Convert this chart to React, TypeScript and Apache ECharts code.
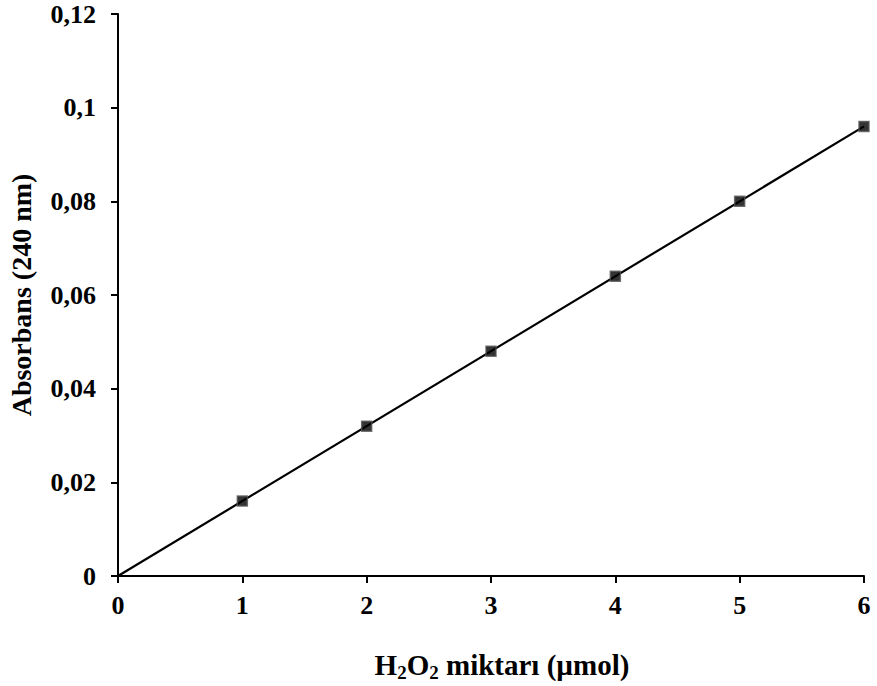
import React, { useEffect, useRef } from "react";
import * as echarts from "echarts";

const xValues = [1, 2, 3, 4, 5, 6];
const yValues = [0.016, 0.032, 0.048, 0.064, 0.08, 0.096];
const trendX = [0, 6];
const trendY = [0, 0.096];
const xTicks = [0, 1, 2, 3, 4, 5, 6];
const yTicks = [0, 0.02, 0.04, 0.06, 0.08, 0.1, 0.12];

const FONT = '"Liberation Serif", "Times New Roman", serif';

export default function App() {
  const ref = useRef<HTMLDivElement>(null);
  useEffect(() => {
    if (!ref.current) return;
    const chart = echarts.init(ref.current, null, { renderer: "svg" });
    const fmt = (v: number) => String(parseFloat(v.toFixed(3))).replace(".", ",");
    chart.setOption({
      animation: false,
      backgroundColor: "#ffffff",
      grid: { left: 118, right: 13, top: 14, bottom: 110, containLabel: false, outerBoundsMode: "none" },
      xAxis: {
        type: "value",
        min: xTicks[0],
        max: xTicks[xTicks.length - 1],
        interval: 1,
        splitLine: { show: false },
        axisLine: { show: true, onZero: false, lineStyle: { color: "#000", width: 2 } },
        axisTick: { show: true, inside: false, length: 7, lineStyle: { color: "#000", width: 2 } },
        axisLabel: {
          color: "#000",
          fontFamily: FONT,
          fontWeight: "bold",
          fontSize: 26,
          margin: 16,
          formatter: (v: number) => fmt(v),
        },
        name: "{a|H}{s|2}{a|O}{s|2}{a| miktarı (µmol)}",
        nameLocation: "middle",
        nameGap: 71,
        nameTextStyle: {
          padding: [0, 0, 0, 22],
          rich: {
            a: { fontFamily: FONT, fontWeight: "bold", fontSize: 29, color: "#000" },
            s: { fontFamily: FONT, fontWeight: "bold", fontSize: 19, color: "#000", verticalAlign: "bottom", padding: [16, 0, 0, 0] },
          },
        },
      },
      yAxis: {
        type: "value",
        min: yTicks[0],
        max: yTicks[yTicks.length - 1],
        interval: 0.02,
        splitLine: { show: false },
        axisLine: { show: true, onZero: false, lineStyle: { color: "#000", width: 2 } },
        axisTick: { show: true, inside: false, length: 7, lineStyle: { color: "#000", width: 2 } },
        axisLabel: {
          color: "#000",
          fontFamily: FONT,
          fontWeight: "bold",
          fontSize: 26,
          margin: 22,
          formatter: (v: number) => fmt(v),
        },
        name: "Absorbans (240 nm)",
        nameLocation: "middle",
        nameGap: 83,
        nameRotate: 90,
        nameTextStyle: { fontFamily: FONT, fontWeight: "bold", fontSize: 28, color: "#000" },
      },
      series: [
        {
          type: "line",
          data: trendX.map((x, i) => [x, trendY[i]]),
          showSymbol: false,
          symbol: "none",
          lineStyle: { color: "#000", width: 2.2 },
          z: 2,
        },
        {
          type: "scatter",
          data: xValues.map((x, i) => [x, yValues[i]]),
          symbol: "rect",
          symbolSize: 10,
          itemStyle: { color: "#000", borderColor: "#555", borderWidth: 1.5 },
          z: 3,
        },
      ],
    });
    return () => chart.dispose();
  }, []);
  return <div ref={ref} style={{ width: 877, height: 686, position: "absolute", left: 0, top: 0 }} />;
}
